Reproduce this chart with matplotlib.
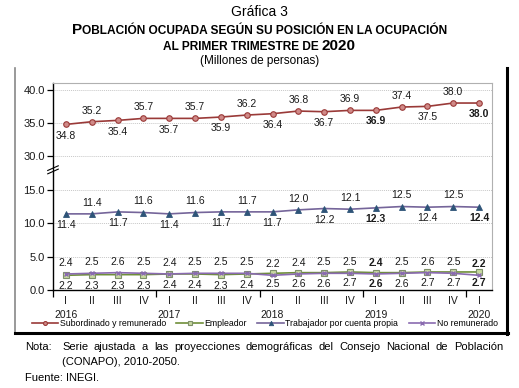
import numpy as np
import matplotlib
matplotlib.use("Agg")
import matplotlib.pyplot as plt
from matplotlib.lines import Line2D
from matplotlib.offsetbox import TextArea, HPacker, AnchoredOffsetbox

plt.rcParams['font.family'] = ['Liberation Sans', 'DejaVu Sans']

# datos (millones de personas)
trimestres = ['I', 'II', 'III', 'IV'] * 4 + ['I']
anios = ['2016', '2017', '2018', '2019', '2020']
subordinado = [34.8, 35.2, 35.4, 35.7, 35.7, 35.7, 35.9, 36.2, 36.4, 36.8, 36.7, 36.9, 36.9, 37.4, 37.5, 38.0, 38.0]
empleador = [2.2, 2.3, 2.3, 2.3, 2.4, 2.4, 2.3, 2.4, 2.5, 2.6, 2.6, 2.7, 2.6, 2.6, 2.7, 2.7, 2.7]
cuenta_propia = [11.4, 11.4, 11.7, 11.6, 11.4, 11.6, 11.7, 11.7, 11.7, 12.0, 12.2, 12.1, 12.3, 12.5, 12.4, 12.5, 12.4]
no_remunerado = [2.4, 2.5, 2.6, 2.5, 2.4, 2.5, 2.5, 2.5, 2.2, 2.4, 2.5, 2.5, 2.4, 2.5, 2.6, 2.5, 2.2]
negritas = [12, 16]


def f(v):
    # eje cortado: de 15 salta a 30
    v = np.asarray(v, dtype=float)
    return np.where(v >= 20, v - 10, v)


x = np.arange(len(subordinado))
etiquetas_x = []
for i, t in enumerate(trimestres):
    if i % 4 == 0:
        etiquetas_x.append(t + '\n' + anios[i // 4])
    else:
        etiquetas_x.append(t)

fig = plt.figure(figsize=(5.19, 3.88), dpi=100)
ax = fig.add_axes([53 / 519, 1 - 290 / 388, (492 - 53) / 519, (290 - 83) / 388])

series = [
    (subordinado, 'Subordinado y remunerado', '#9A3A38', dict(marker='o', ms=4, mfc='#D08A88', mec='#9A3A38', mew=0.8)),
    (empleador, 'Empleador', '#6F8F3A', dict(marker='s', ms=4.5, mfc='#C7D9A0', mec='#7E8F6A', mew=0.8)),
    (cuenta_propia, 'Trabajador por cuenta propia', '#75659A', dict(marker='^', ms=4.5, mfc='#2E5478', mec='#2E5478', mew=0.6)),
    (no_remunerado, 'No remunerado', '#8A6BB0', dict(marker='x', ms=3.5, mec='#8A6BB0', mew=1.0)),
]
for vals, nombre, color, mk in series:
    ax.plot(x, f(vals), color=color, lw=1.2, label=nombre, zorder=3, **mk)


def etiqueta(xi, v, arriba):
    dy = 8 if arriba else -8
    ax.annotate(f'{v:.1f}', (xi, float(f(v))), xytext=(0, dy), textcoords='offset points',
                ha='center', va='center', fontsize=7.5, color='#1a1a1a',
                fontweight='bold' if xi in negritas else 'normal')


for i in x:
    arriba = (i % 2 == 1)
    etiqueta(i, subordinado[i], arriba)
    etiqueta(i, cuenta_propia[i], arriba)
    etiqueta(i, no_remunerado[i], True)
    etiqueta(i, empleador[i], False)

ax.set_xlim(-0.5, 16.5)
ax.set_ylim(0, 31)
yt = [0, 5, 10, 15, 30, 35, 40]
ax.set_yticks(f(yt))
ax.set_yticklabels([f'{v:.1f}' for v in yt], fontsize=8, color='#1a1a1a')
for g in yt[1:]:
    ax.axhline(float(f(g)), color='#c8c8c8', lw=0.7, ls=(0, (1, 1)), zorder=1)

ax.set_xticks(x)
ax.set_xticklabels(etiquetas_x, fontsize=7.5, linespacing=1.55, color='#1a1a1a')
ax.tick_params(axis='x', which='major', length=0, pad=4)
ax.set_xticks([-0.5, 3.5, 7.5, 11.5, 15.5], minor=True)
ax.tick_params(axis='x', which='minor', length=5, width=0.9, direction='out')
ax.tick_params(axis='y', length=4, width=0.9, direction='out', pad=2)

for s in ['left', 'bottom']:
    ax.spines[s].set_color('black')
    ax.spines[s].set_linewidth(1.0)
for s in ['top', 'right']:
    ax.spines[s].set_color('#b0b0b0')
    ax.spines[s].set_linewidth(0.8)

# marca de corte en el eje (dos rayitas inclinadas)
tr = ax.get_yaxis_transform()
for yc in (17.75, 18.25):
    ax.add_line(Line2D([-0.012, 0.012], [yc - 0.35, yc + 0.35], transform=tr,
                       color='black', lw=0.8, clip_on=False, zorder=5))

# leyenda
fig.legend(loc='center', bbox_to_anchor=(0.51, 1 - 324 / 388), ncol=4, frameon=False,
           fontsize=6.3, handlelength=3.0, columnspacing=1.2, handletextpad=0.2,
           borderaxespad=0, markerscale=0.7)

# recuadro exterior
fig.add_artist(Line2D([15 / 519, 15 / 519], [1 - 333 / 388, 1 - 68 / 388], color='#888888', lw=1.2))
fig.add_artist(Line2D([507 / 519, 507 / 519], [1 - 334 / 388, 1 - 68 / 388], color='black', lw=2.2))
fig.add_artist(Line2D([15 / 519, 508 / 519], [1 - 333 / 388, 1 - 333 / 388], color='black', lw=2.2))

# titulos
fig.text(0.5, 1 - 12 / 388, 'Gráfica 3', ha='center', va='center', fontsize=10)
l1 = HPacker(children=[TextArea('P', textprops=dict(fontsize=11, fontweight='bold')),
                       TextArea('OBLACIÓN OCUPADA SEGÚN SU POSICIÓN EN LA OCUPACIÓN',
                                textprops=dict(fontsize=8.6, fontweight='bold'))],
             align='baseline', pad=0, sep=0)
l2 = HPacker(children=[TextArea('AL PRIMER TRIMESTRE DE ', textprops=dict(fontsize=8.6, fontweight='bold')),
                       TextArea('2020', textprops=dict(fontsize=11, fontweight='bold'))],
             align='baseline', pad=0, sep=0)
for caja, yy in [(l1, 1 - 30 / 388), (l2, 1 - 46 / 388)]:
    ab = AnchoredOffsetbox(loc='center', child=caja, frameon=False, pad=0, borderpad=0,
                           bbox_to_anchor=(0.5, yy), bbox_transform=fig.transFigure)
    fig.add_artist(ab)
fig.text(0.5, 1 - 61 / 388, '(Millones de personas)', ha='center', va='center', fontsize=8.5)

# nota justificada
fig.text(25 / 519, 1 - 347 / 388, 'Nota:', ha='left', va='center', fontsize=8)
palabras = 'Serie ajustada a las proyecciones demográficas del Consejo Nacional de Población'.split()
textos = [fig.text(0, 1 - 347 / 388, p, ha='left', va='center', fontsize=8) for p in palabras]
fig.canvas.draw()
r = fig.canvas.get_renderer()
anchos = [t.get_window_extent(r).width for t in textos]
x0, x1 = 62, 503
hueco = (x1 - x0 - sum(anchos)) / (len(palabras) - 1)
pos = x0
for t, w in zip(textos, anchos):
    t.set_x(pos / 519)
    pos += w + hueco
fig.text(62 / 519, 1 - 362 / 388, '(CONAPO), 2010-2050.', ha='left', va='center', fontsize=8)
fig.text(25 / 519, 1 - 378 / 388, 'Fuente: INEGI.', ha='left', va='center', fontsize=8)

fig.savefig('out.png', dpi=100)
